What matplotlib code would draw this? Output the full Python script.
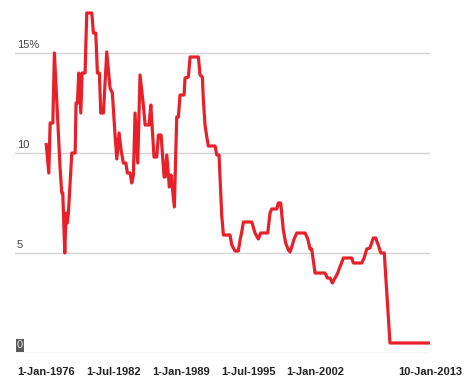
import matplotlib
matplotlib.use("Agg")
import matplotlib.pyplot as plt
from matplotlib.transforms import blended_transform_factory

# Decimal year of each observation
years = [
    1976.00, 1976.26, 1976.39, 1976.65, 1976.80, 1977.09, 1977.35, 1977.51, 1977.61, 1977.80,
    1977.93, 1978.05, 1978.15, 1978.48, 1978.80, 1978.89, 1979.02, 1979.15, 1979.35, 1979.47,
    1979.76, 1979.92, 1980.41, 1980.56, 1980.79, 1980.95, 1981.14, 1981.27, 1981.53, 1981.85,
    1982.17, 1982.39, 1982.65, 1982.82, 1983.04, 1983.23, 1983.45, 1983.69, 1983.84, 1984.10,
    1984.26, 1984.42, 1984.58, 1984.84, 1985.06, 1985.38, 1985.55, 1985.93, 1986.10, 1986.41,
    1986.67, 1986.83, 1987.09, 1987.38, 1987.48, 1987.64, 1987.89, 1988.05, 1988.37, 1988.60,
    1988.76, 1988.92, 1989.31, 1989.40, 1989.72, 1989.89, 1990.69, 1990.85, 1991.07, 1991.17,
    1991.33, 1991.50, 1991.65, 1992.30, 1992.46, 1992.68, 1992.94, 1993.10, 1993.74, 1993.91,
    1994.23, 1994.54, 1994.71, 1994.87, 1995.03, 1995.84, 1996.15, 1996.47, 1996.70, 1997.12,
    1997.38, 1997.60, 1997.76, 1998.25, 1998.40, 1998.63, 1998.88, 1999.11, 1999.37, 1999.53,
    1999.75, 1999.92, 2000.18, 2000.98, 2001.24, 2001.46, 2001.62, 2001.94, 2002.90, 2003.13,
    2003.39, 2003.61, 2003.87, 2004.13, 2004.30, 2004.50, 2004.67, 2005.48, 2005.64, 2006.45,
    2006.67, 2006.93, 2007.24, 2007.56, 2007.79, 2008.04, 2008.28, 2008.62, 2009.17, 2013.03,
]

# Interest rate (%)
rate = [
    10.5, 9.0, 11.5, 11.5, 15.0, 12.0, 9.25, 8.0, 8.0, 5.0,
    7.0, 6.5, 7.0, 10.0, 10.0, 12.5, 12.5, 14.0, 12.0, 14.0,
    14.0, 17.0, 17.0, 16.0, 16.0, 14.0, 14.0, 12.0, 12.0, 15.05,
    13.25, 13.0, 10.9, 9.7, 11.0, 10.15, 9.5, 9.5, 9.0, 9.0,
    8.5, 8.9, 12.0, 9.5, 13.9, 12.4, 11.4, 11.4, 12.4, 9.8,
    9.8, 10.9, 10.9, 8.8, 8.8, 9.9, 8.3, 8.9, 7.3, 11.8,
    11.8, 12.9, 12.9, 13.75, 13.8, 14.8, 14.8, 13.9, 13.8, 12.65,
    11.4, 10.8, 10.35, 10.35, 9.9, 9.9, 6.9, 5.9, 5.9, 5.4,
    5.1, 5.1, 5.65, 6.05, 6.55, 6.55, 6.0, 5.7, 6.0, 6.0,
    6.0, 7.0, 7.2, 7.2, 7.5, 7.5, 6.15, 5.5, 5.15, 5.05,
    5.4, 5.7, 6.0, 6.0, 5.7, 5.2, 5.2, 4.0, 4.0, 3.75,
    3.75, 3.5, 3.75, 4.0, 4.25, 4.5, 4.75, 4.75, 4.5, 4.5,
    4.75, 5.2, 5.25, 5.75, 5.75, 5.4, 5.0, 5.0, 0.5, 0.5,
]

y_ticks = [0, 5, 10, 15]
y_tick_labels = ["0", "5", "10", "15%"]
x_ticks = [1976.0, 1982.5, 1989.0, 1995.5, 2002.0, 2013.03]
x_tick_labels = ["1-Jan-1976", "1-Jul-1982", "1-Jan-1989", "1-Jul-1995", "1-Jan-2002", "10-Jan-2013"]

W, H = 471, 385
fig = plt.figure(figsize=(W / 100, H / 100), dpi=100)
ax_left, ax_right, ax_top, ax_bottom = 15, 430, 0, 353
ax = fig.add_axes([ax_left / W, 1 - ax_bottom / H, (ax_right - ax_left) / W, (ax_bottom - ax_top) / H])

ax.set_xlim(1973.0, 2013.03)
ax.set_ylim(0, 17.65)

for v in y_ticks:
    ax.axhline(v, color="#d4d4d4", lw=1.0, zorder=1)

ax.plot(years, rate, color="#e8202a", lw=2.3, solid_joinstyle="round", solid_capstyle="butt",
        zorder=3, clip_on=False)

for s in ax.spines.values():
    s.set_visible(False)
ax.set_xticks([])
ax.set_yticks([])

trans = blended_transform_factory(ax.transAxes, ax.transData)
for v, lab in zip(y_ticks, y_tick_labels):
    kw = {}
    color = "#444444"
    if lab == "0":
        kw["bbox"] = dict(boxstyle="square,pad=0.12", fc="#5a5a5a", ec="none")
        color = "#e0e0e0"
    ax.annotate(lab, xy=(2 / 415, v), xycoords=trans, xytext=(0, 2), textcoords="offset points",
                ha="left", va="bottom", fontsize=8, color=color, family="Liberation Sans", **kw)

for x, lab in zip(x_ticks, x_tick_labels):
    ax.annotate(lab, xy=(x, 0), xycoords=("data", "data"), xytext=(0, -14), textcoords="offset points",
                ha="center", va="center", fontsize=8, color="#222222", fontweight="bold",
                family="Liberation Sans", annotation_clip=False)

fig.savefig("out.png", dpi=100, facecolor="white")
